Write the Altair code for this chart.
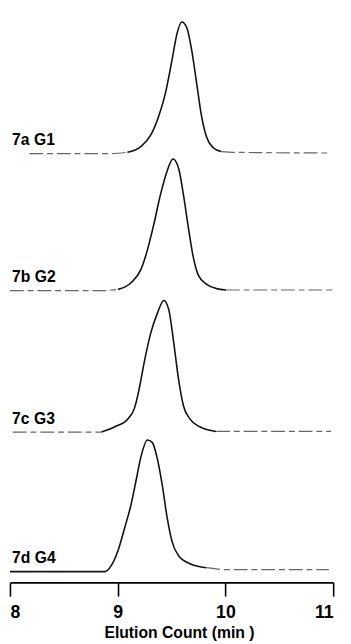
import altair as alt
import pandas as pd

g1_min = [8.18, 8.91, 9.09, 9.215, 9.306, 9.383, 9.443, 9.504, 9.55, 9.595, 9.64, 9.686, 9.732, 9.777, 9.823, 9.884, 9.96, 10.097, 10.96]
g1_sig = [0.0, 0.0, 0.01, 0.054, 0.14, 0.29, 0.46, 0.71, 0.91, 1.0, 0.96, 0.79, 0.54, 0.29, 0.13, 0.047, 0.016, 0.01, 0.005]

g2_min = [8.0, 8.85, 9.003, 9.124, 9.215, 9.276, 9.337, 9.397, 9.459, 9.513, 9.565, 9.61, 9.656, 9.70, 9.747, 9.823, 9.914, 10.005, 10.99]
g2_sig = [0.0, 0.0, 0.01, 0.06, 0.16, 0.31, 0.51, 0.73, 0.91, 1.0, 0.93, 0.73, 0.48, 0.26, 0.12, 0.05, 0.017, 0.005, 0.005]

g3_min = [8.027, 8.73, 8.85, 8.973, 9.094, 9.155, 9.20, 9.246, 9.306, 9.367, 9.428, 9.474, 9.52, 9.565, 9.61, 9.67, 9.762, 9.914, 10.98]
g3_sig = [0.0, 0.0, 0.0, 0.04, 0.10, 0.18, 0.33, 0.53, 0.75, 0.90, 1.0, 0.93, 0.68, 0.40, 0.20, 0.10, 0.04, 0.005, 0.005]

g4_min = [8.0, 8.64, 8.88, 8.94, 9.003, 9.064, 9.124, 9.17, 9.215, 9.276, 9.322, 9.367, 9.413, 9.459, 9.504, 9.565, 9.67, 9.823, 10.02, 10.96]
g4_sig = [0.0, 0.0, 0.0, 0.045, 0.16, 0.33, 0.51, 0.69, 0.87, 1.0, 0.98, 0.86, 0.66, 0.41, 0.23, 0.12, 0.06, 0.03, 0.015, 0.015]

labels = ["7a G1", "7b G2", "7c G3", "7d G4"]
offsets = [3.257, 2.216, 1.142, 0.082]   # vertical stacking of the traces
x_ticks = [8, 9, 10, 11]

# where each trace is drawn as a solid ink line (the baselines are faint/broken)
solid_from = [9.09, 9.003, 8.85, 8.0]
solid_to = [9.96, 10.005, 9.914, 9.823]

traces = [(g1_min, g1_sig), (g2_min, g2_sig), (g3_min, g3_sig), (g4_min, g4_sig)]
rows = []
for lab, off, lo, hi, (xs, ys) in zip(labels, offsets, solid_from, solid_to, traces):
    for i, (x, y) in enumerate(zip(xs, ys)):
        parts = []
        if x <= lo:
            parts.append("left")
        if lo <= x <= hi:
            parts.append("solid")
        if x >= hi:
            parts.append("right")
        for p in parts:
            rows.append({"trace": lab, "part": p, "key": lab + p, "order": i,
                         "minute": x, "signal": y + off})
df = pd.DataFrame(rows)

lab_df = pd.DataFrame({"label": labels, "minute": [8.02] * 4,
                       "signal": [o + 0.065 for o in offsets]})

xscale = alt.Scale(domain=[8, 11], nice=False, zero=False)
yscale = alt.Scale(domain=[0, 4.306], nice=False, zero=False)

xaxis = alt.Axis(
    values=x_ticks, format="d", grid=False,
    domainColor="black", domainWidth=1.6,
    tickColor="black", tickWidth=1.6, tickSize=14,
    labelFont="Liberation Sans", labelFontWeight="bold", labelFontSize=18,
    labelColor="black", labelPadding=8,
    title="Elution Count (min )", titleFont="Liberation Sans",
    titleFontWeight="bold", titleFontSize=16, titleColor="black",
    titlePadding=3, titleX=172,
)

base = alt.Chart(df)

solid = base.mark_line(color="#111111", strokeWidth=1.6, interpolate="monotone").encode(
    x=alt.X("minute:Q", scale=xscale, axis=xaxis),
    y=alt.Y("signal:Q", scale=yscale, axis=None),
    detail="key:N",
    order="order:Q",
).transform_filter(alt.datum.part == "solid")

tails = base.mark_line(color="#666666", strokeWidth=1.2, strokeDash=[14, 4, 6, 4],
                       interpolate="monotone").encode(
    x=alt.X("minute:Q", scale=xscale),
    y=alt.Y("signal:Q", scale=yscale),
    detail="key:N",
    order="order:Q",
).transform_filter(alt.datum.part != "solid")

texts = alt.Chart(lab_df).mark_text(
    align="left", baseline="alphabetic", font="Liberation Sans",
    fontWeight="bold", fontSize=16, color="black",
).encode(
    x=alt.X("minute:Q", scale=xscale),
    y=alt.Y("signal:Q", scale=yscale),
    text="label:N",
)

chart = (solid + tails + texts).properties(
    width=329, height=577,
    autosize=alt.AutoSizeParams(type="none"),
    padding={"left": 2, "top": 2, "right": 10, "bottom": 57},
).configure(background="white", view=alt.ViewConfig(strokeWidth=0))

chart.save("out.html", embed_options={"renderer": "svg", "actions": False})
